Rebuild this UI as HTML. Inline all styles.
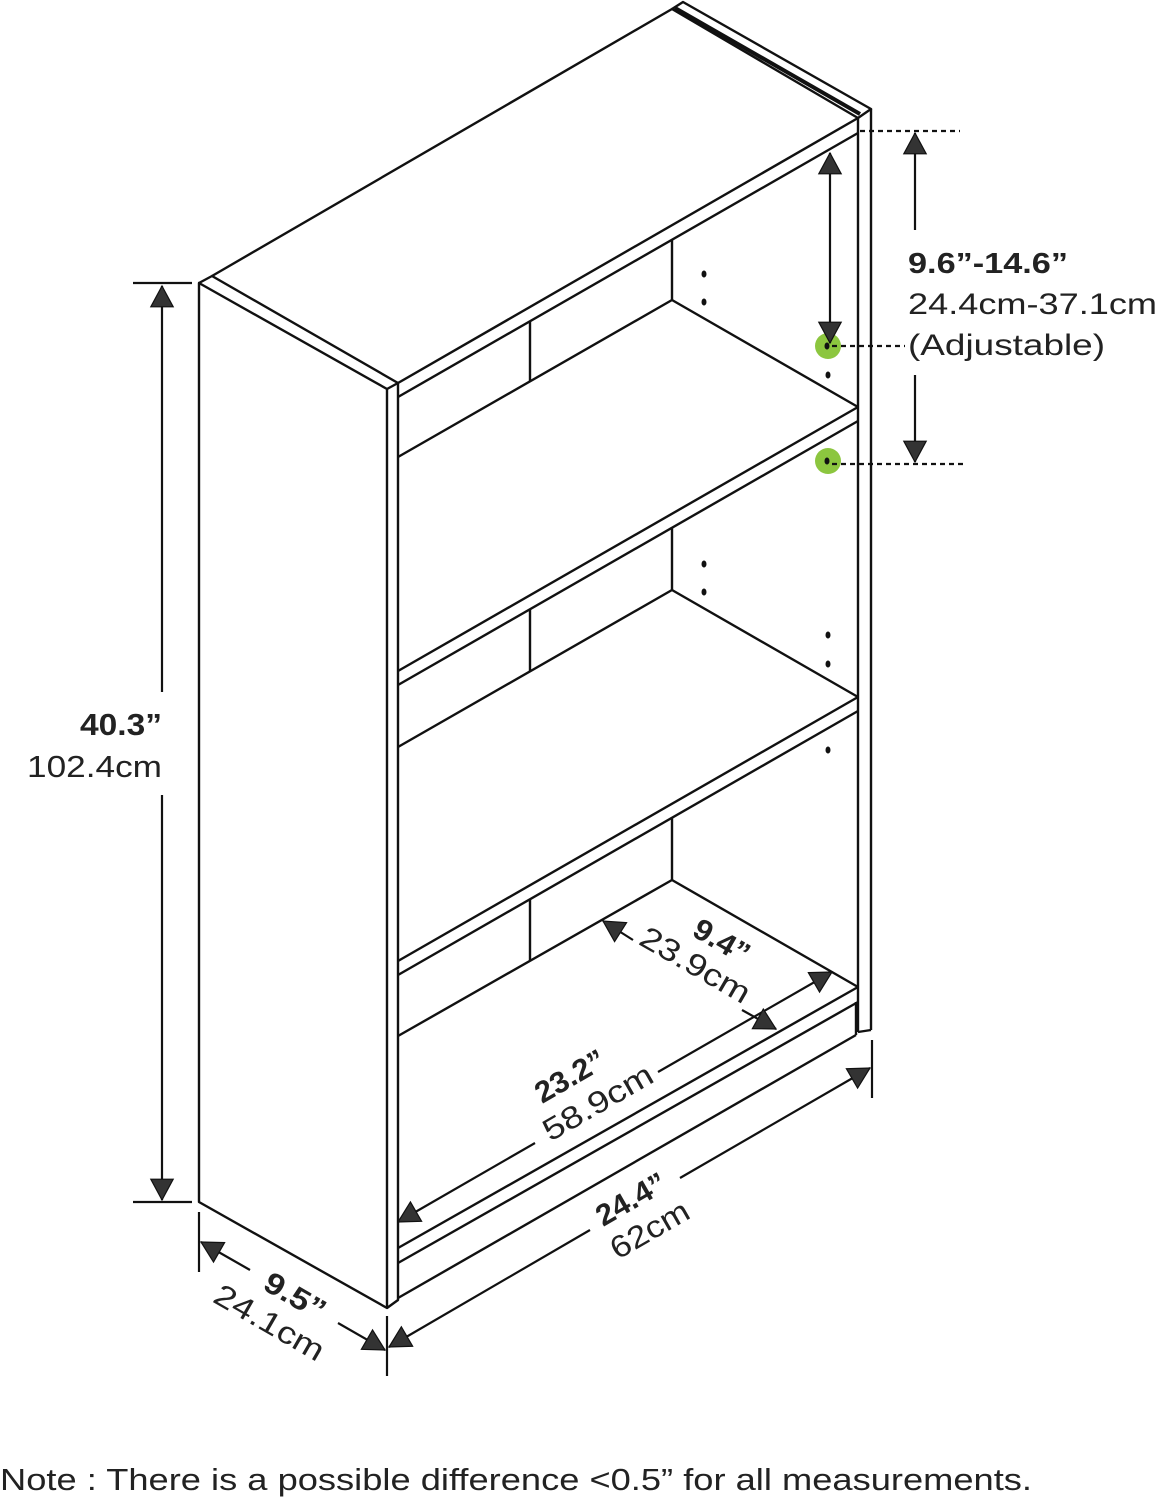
<!DOCTYPE html>
<html><head><meta charset="utf-8"><style>
html,body{margin:0;padding:0;background:#fff;}
svg{display:block;}
text{font-family:"Liberation Sans",sans-serif;fill:#222;}
</style></head><body>
<svg width="1159" height="1500" viewBox="0 0 1159 1500" xmlns="http://www.w3.org/2000/svg">
<defs>
<marker id="ah" viewBox="0 0 10 10" refX="10" refY="5" markerWidth="8" markerHeight="8" markerUnits="userSpaceOnUse" orient="auto" style="overflow:visible">
<path d="M-26,-14 L0,0 L-26,14 Z" fill="#333" stroke="#111" stroke-width="1.5" transform="translate(10,5)"/>
</marker>
</defs>
<g stroke="#111" stroke-width="2.4" fill="none" stroke-linejoin="round">
<polygon points="199,283 387,389 387,1308 199,1202" fill="#fff"/>
<polyline points="199,283 212,276 398,383 387,389"/>
<polyline points="398,383 398,1300 387,1308"/>
<polyline points="212,276 672,9 858,118"/>
<polyline points="672,9 683,2 871,109 858,118"/>
<line x1="675" y1="8" x2="860" y2="114" stroke-width="4"/>
<line x1="398" y1="383" x2="858" y2="118"/>
<line x1="398" y1="397" x2="858" y2="133"/>
<line x1="858" y1="118" x2="858" y2="1032"/>
<line x1="871" y1="109" x2="871" y2="1030"/>
<line x1="858" y1="1032" x2="871" y2="1030"/>
<line x1="672" y1="240" x2="672" y2="300"/>
<line x1="530" y1="321" x2="530" y2="381"/>
<polyline points="398,457 672,300 858,407"/>
<line x1="398" y1="671" x2="858" y2="407"/>
<line x1="398" y1="685" x2="858" y2="421"/>
<line x1="672" y1="527" x2="672" y2="590"/>
<line x1="530" y1="609" x2="530" y2="671"/>
<polyline points="398,747 672,590 858,697"/>
<line x1="398" y1="961" x2="858" y2="697"/>
<line x1="398" y1="975" x2="858" y2="711"/>
<line x1="672" y1="817" x2="672" y2="880"/>
<line x1="530" y1="899" x2="530" y2="961"/>
<polyline points="398,1036 672,880 858,987"/>
<line x1="398" y1="1248" x2="858" y2="987"/>
<line x1="398" y1="1263" x2="858" y2="1002"/>
<line x1="398" y1="1298" x2="856" y2="1035"/>
<line x1="856" y1="1002" x2="856" y2="1035"/>
</g>
<g fill="#111">
<ellipse cx="704" cy="274" rx="2.5" ry="3.5"/><ellipse cx="704" cy="302" rx="2.5" ry="3.5"/>
<ellipse cx="828" cy="375" rx="2.5" ry="3.5"/>
<ellipse cx="704" cy="564" rx="2.5" ry="3.5"/><ellipse cx="704" cy="592" rx="2.5" ry="3.5"/>
<ellipse cx="828" cy="635" rx="2.5" ry="3.5"/><ellipse cx="828" cy="664" rx="2.5" ry="3.5"/>
<ellipse cx="828" cy="750" rx="2.5" ry="3.5"/>
</g>
<circle cx="828" cy="346" r="13" fill="#8cc63f"/>
<circle cx="828" cy="461" r="13" fill="#8cc63f"/>
<ellipse cx="827" cy="346" rx="2.5" ry="3.5" fill="#111"/>
<ellipse cx="827" cy="461" rx="2.5" ry="3.5" fill="#111"/>
<g stroke="#111" stroke-width="2.2" fill="none">
<line x1="133" y1="283" x2="192" y2="283"/>
<line x1="133" y1="1202" x2="192" y2="1202"/>
<line x1="162" y1="692" x2="162" y2="286" marker-end="url(#ah)"/>
<line x1="162" y1="795" x2="162" y2="1200" marker-end="url(#ah)"/>
<line x1="860" y1="131" x2="960" y2="131" stroke-dasharray="5,4"/>
<line x1="832" y1="464" x2="965" y2="464" stroke-dasharray="5,4"/>
<line x1="832" y1="346" x2="905" y2="346" stroke-dasharray="5,4"/>
<line x1="915" y1="230" x2="915" y2="133" marker-end="url(#ah)"/>
<line x1="915" y1="375" x2="915" y2="462" marker-end="url(#ah)"/>
<line x1="830" y1="250" x2="830" y2="153" marker-end="url(#ah)"/>
<line x1="830" y1="250" x2="830" y2="343" marker-end="url(#ah)"/>
<line x1="199" y1="1212" x2="199" y2="1272"/>
<line x1="387" y1="1316" x2="387" y2="1376"/>
<line x1="872" y1="1040" x2="872" y2="1098"/>
<line x1="250" y1="1270" x2="201" y2="1242" marker-end="url(#ah)"/>
<line x1="338" y1="1323" x2="385" y2="1350" marker-end="url(#ah)"/>
<line x1="590" y1="1230" x2="389" y2="1347" marker-end="url(#ah)"/>
<line x1="680" y1="1178" x2="870" y2="1068" marker-end="url(#ah)"/>
<line x1="535" y1="1143" x2="398" y2="1222" marker-end="url(#ah)"/>
<line x1="658" y1="1072" x2="832" y2="972" marker-end="url(#ah)"/>
<line x1="633" y1="940" x2="603" y2="921" marker-end="url(#ah)"/>
<line x1="742" y1="1010" x2="776" y2="1029" marker-end="url(#ah)"/>
</g>
<text x="80" y="735" font-size="31" font-weight="bold" textLength="82" lengthAdjust="spacingAndGlyphs">40.3”</text>
<text x="27" y="777" font-size="31" textLength="135" lengthAdjust="spacingAndGlyphs">102.4cm</text>
<text x="908" y="273" font-size="29" font-weight="bold" textLength="160" lengthAdjust="spacingAndGlyphs">9.6”-14.6”</text>
<text x="908" y="314" font-size="30" textLength="249" lengthAdjust="spacingAndGlyphs">24.4cm-37.1cm</text>
<text x="908" y="355" font-size="30" textLength="197" lengthAdjust="spacingAndGlyphs">(Adjustable)</text>
<g transform="translate(290,1305) rotate(30)"><text x="-33" y="0" font-size="30" font-weight="bold" textLength="66" lengthAdjust="spacingAndGlyphs">9.5”</text><text x="-70" y="36" font-size="31" textLength="122" lengthAdjust="spacingAndGlyphs">24.1cm</text></g>
<g transform="translate(636,1208) rotate(-30)"><text x="-38" y="0" font-size="30" font-weight="bold" textLength="76" lengthAdjust="spacingAndGlyphs">24.4”</text><text x="-42" y="36" font-size="31" textLength="86" lengthAdjust="spacingAndGlyphs">62cm</text></g>
<g transform="translate(575,1085) rotate(-30)"><text x="-38" y="0" font-size="30" font-weight="bold" textLength="76" lengthAdjust="spacingAndGlyphs">23.2”</text><text x="-50" y="37" font-size="31" textLength="122" lengthAdjust="spacingAndGlyphs">58.9cm</text></g>
<g transform="translate(708,945) rotate(30)"><text x="-20" y="0" font-size="30" font-weight="bold" textLength="60" lengthAdjust="spacingAndGlyphs">9.4”</text><text x="-62" y="34" font-size="31" textLength="122" lengthAdjust="spacingAndGlyphs">23.9cm</text></g>
<text x="0" y="1490" font-size="31" textLength="1032" lengthAdjust="spacingAndGlyphs">Note : There is a possible difference &lt;0.5” for all measurements.</text>
</svg>
</body></html>
